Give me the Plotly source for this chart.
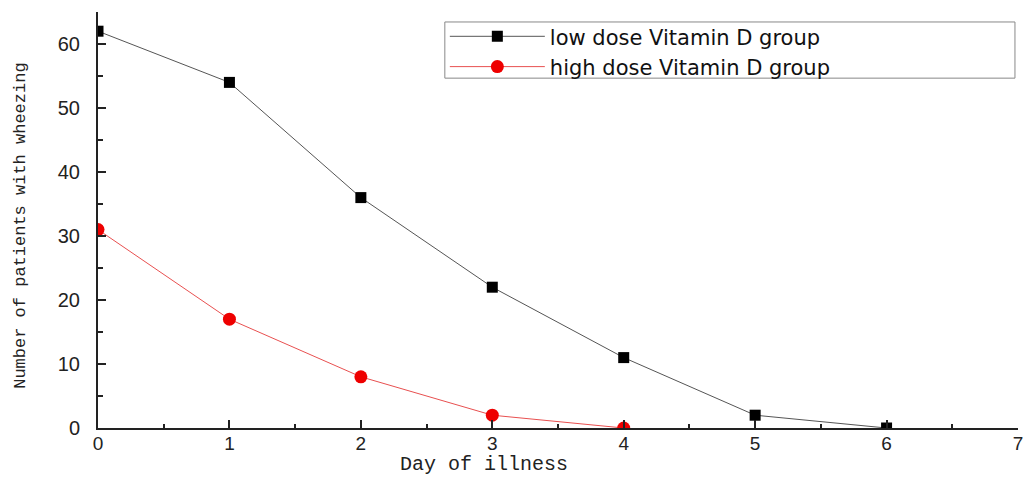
import plotly.graph_objects as go

days = [0, 1, 2, 3, 4, 5, 6]
low_dose = [62, 54, 36, 22, 11, 2, 0]
high_days = [0, 1, 2, 3, 4]
high_dose = [31, 17, 8, 2, 0]

fig = go.Figure()
fig.add_trace(go.Scatter(
    x=days, y=low_dose, mode="lines+markers",
    name="low dose Vitamin D group",
    line=dict(color="#555555", width=1),
    marker=dict(symbol="square", size=11, color="black"),
))
fig.add_trace(go.Scatter(
    x=high_days, y=high_dose, mode="lines+markers",
    name="high dose Vitamin D group",
    line=dict(color="#e85050", width=1),
    marker=dict(symbol="circle", size=13, color="#ee0000"),
))

# legend frame (reference frame is wider than the text)
fig.add_shape(type="rect", xref="paper", yref="paper",
              x0=0.377, x1=0.9967, y0=0.841, y1=0.976,
              line=dict(color="#888888", width=1), fillcolor="rgba(0,0,0,0)", layer="above")

fig.add_annotation(text="Day of illness", xref="paper", yref="paper", x=0.42, y=0,
                   yshift=-36, showarrow=False, xanchor="center", yanchor="middle", borderpad=0,
                   font=dict(size=20, family="Liberation Mono, DejaVu Sans Mono", color="#222222"))
fig.add_annotation(text="Number of patients with wheezing", xref="paper", yref="paper", x=0, y=0.486,
                   xshift=-77, showarrow=False, xanchor="center", yanchor="middle", textangle=-90,
                   font=dict(size=17, family="Liberation Mono, DejaVu Sans Mono", color="#222222"))

fig.update_layout(
    width=1026, height=477,
    margin=dict(l=98, r=8, t=12, b=49),
    paper_bgcolor="white", plot_bgcolor="white",
    font=dict(family="Liberation Sans, Arial", color="#222222"),
    legend=dict(
        x=0.377, y=0.99, xanchor="left", yanchor="top",
        borderwidth=0, bgcolor="rgba(0,0,0,0)",
        font=dict(size=21, family="DejaVu Sans, Liberation Sans, Arial", color="#111111"),
        itemwidth=95, tracegroupgap=0,
    ),
    showlegend=True,
)
fig.update_xaxes(
    range=[0, 7], tickvals=[0, 1, 2, 3, 4, 5, 6, 7],
    ticks="inside", ticklen=8, tickwidth=2, tickcolor="#222222",
    minor=dict(tickvals=[0.5, 1.5, 2.5, 3.5, 4.5, 5.5, 6.5], ticks="inside", ticklen=4, tickwidth=2, tickcolor="#222222"),
    showline=True, linecolor="#222222", linewidth=2,
    showgrid=False, zeroline=False, automargin=False,
    tickfont=dict(size=19, family="Liberation Sans, Arial"),
    ticklabelstandoff=-3,
)
fig.update_yaxes(
    range=[0, 65], tickvals=[0, 10, 20, 30, 40, 50, 60],
    ticks="inside", ticklen=8, tickwidth=2, tickcolor="#222222",
    minor=dict(tickvals=[5, 15, 25, 35, 45, 55, 65], ticks="inside", ticklen=5, tickwidth=2, tickcolor="#222222"),
    showline=True, linecolor="#222222", linewidth=2,
    showgrid=False, zeroline=False, automargin=False,
    tickfont=dict(size=20, family="Liberation Sans, Arial"),
    ticklabelstandoff=12,
)

fig.write_html("out.html")
